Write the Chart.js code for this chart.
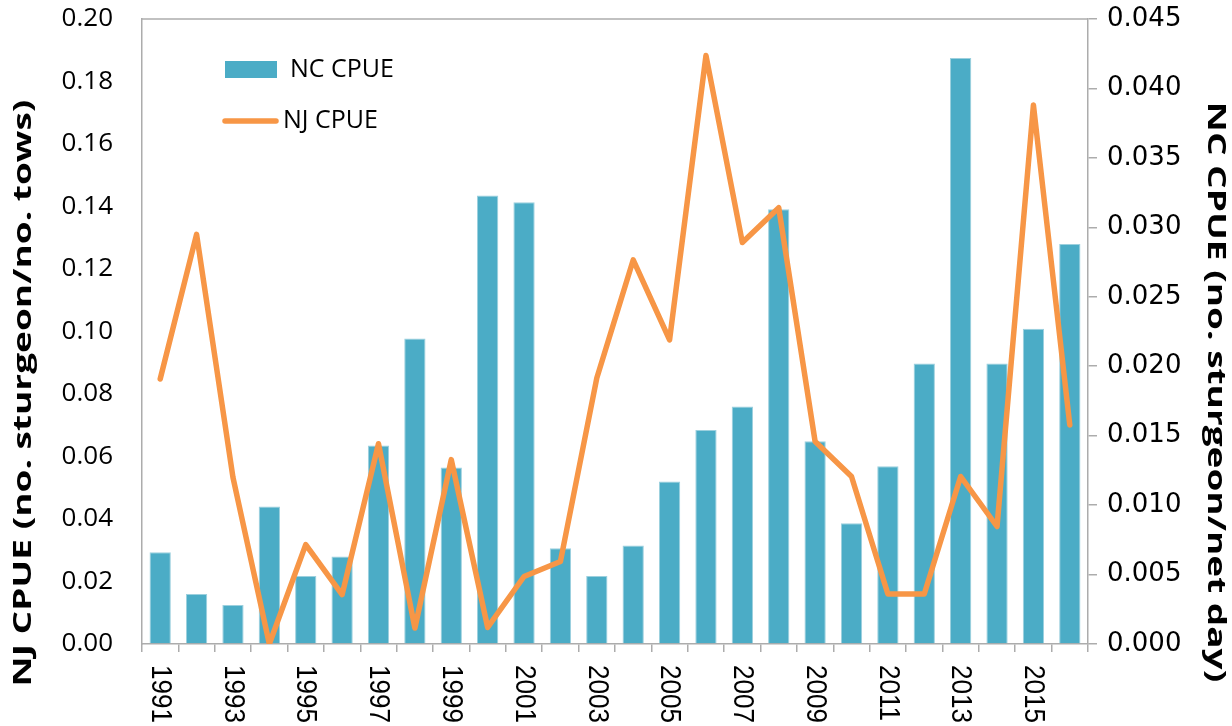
<!DOCTYPE html>
<html>
<head>
<meta charset="utf-8">
<title>NJ and NC CPUE</title>
<script src="https://cdn.jsdelivr.net/npm/chart.js@4.4.1/dist/chart.umd.min.js"></script>
<style>
  html, body { margin: 0; padding: 0; background: #fff; }
  #wrap { width: 1232px; height: 726px; }
</style>
</head>
<body>
<div id="wrap"><canvas id="cpueChart" width="1232" height="726"></canvas></div>
<script>
const years = ["1991", "1992", "1993", "1994", "1995", "1996", "1997", "1998", "1999", "2000",
  "2001", "2002", "2003", "2004", "2005", "2006", "2007", "2008", "2009", "2010",
  "2011", "2012", "2013", "2014", "2015", "2016"];

// NC gill net survey, no. sturgeon per net day (right axis)
const ncCpue = [0.0066, 0.0036, 0.0028, 0.0099, 0.0049, 0.0063, 0.0143, 0.0220, 0.0127, 0.0323,
  0.0318, 0.0069, 0.0049, 0.0071, 0.0117, 0.0154, 0.0171, 0.0313, 0.0146, 0.0087,
  0.0128, 0.0202, 0.0422, 0.0202, 0.0227, 0.0288];

// NJ trawl survey, no. sturgeon per tow (left axis)
const njCpue = [0.0848, 0.1311, 0.0533, 0.0000, 0.0318, 0.0158, 0.0641, 0.0051, 0.0590, 0.0053,
  0.0216, 0.0264, 0.0851, 0.1229, 0.0973, 0.1883, 0.1285, 0.1396, 0.0648, 0.0536,
  0.0160, 0.0160, 0.0536, 0.0376, 0.1725, 0.0701];

const axisGrey = "#ACACAC";
const barBlue = "#4BACC6";
const lineOrange = "#F79646";

function drawRotated(ctx, text, x, y, angle, stretch, align) {
  ctx.save();
  ctx.translate(x, y);
  ctx.rotate(angle);
  ctx.scale(stretch, 1);
  ctx.textAlign = align;
  ctx.fillText(text, 0, 0);
  ctx.restore();
}

// keep the scales from pushing the plot area around
function fixBox(size, key) {
  return (scale) => {
    scale[key] = size;
    scale.paddingTop = 0;
    scale.paddingBottom = 0;
    scale.paddingLeft = 0;
    scale.paddingRight = 0;
  };
}

// year labels, axis titles, legend and the top edge of the frame
const decorations = {
  id: "decorations",
  beforeDatasetsDraw(chart) {
    const { ctx, chartArea: area } = chart;
    ctx.save();
    ctx.strokeStyle = axisGrey;
    ctx.lineWidth = 1.5;
    ctx.beginPath();
    ctx.moveTo(area.left, area.top);
    ctx.lineTo(area.right, area.top);
    ctx.stroke();
    ctx.restore();
  },
  afterDraw(chart) {
    const { ctx, chartArea: area } = chart;
    const xScale = chart.scales.x;
    ctx.save();
    ctx.fillStyle = "#000";
    ctx.textBaseline = "middle";

    // every other year, reading downward
    ctx.font = '30px "Liberation Sans"';
    years.forEach((yr, i) => {
      if (i % 2) return;
      drawRotated(ctx, yr, xScale.getPixelForTick(i), area.bottom + 21, Math.PI / 2, 0.87, "left");
    });

    // axis titles
    ctx.font = 'bold 25px "Open Sans"';
    drawRotated(ctx, "NJ CPUE (no. sturgeon/no. tows)", 24, 393, -Math.PI / 2, 1.48, "center");
    drawRotated(ctx, "NC CPUE (no. sturgeon/net day)", 1215, 392, Math.PI / 2, 1.48, "center");

    // legend
    const [bars, line] = chart.data.datasets;
    const lx = area.left + 83;
    ctx.fillStyle = bars.backgroundColor;
    ctx.fillRect(lx, area.top + 42, 52, 17);
    ctx.strokeStyle = line.borderColor;
    ctx.lineWidth = 5.5;
    ctx.lineCap = "round";
    ctx.beginPath();
    ctx.moveTo(lx, area.top + 102);
    ctx.lineTo(lx + 51, area.top + 102);
    ctx.stroke();
    ctx.fillStyle = "#000";
    ctx.font = '25px "Open Sans"';
    ctx.textAlign = "left";
    ctx.fillText(bars.label, lx + 65, area.top + 51);
    ctx.fillText(line.label, lx + 58, area.top + 102);
    ctx.restore();
  }
};

new Chart(document.getElementById("cpueChart"), {
  data: {
    labels: years,
    datasets: [
      {
        type: "bar",
        label: "NC CPUE",
        data: ncCpue,
        yAxisID: "y1",
        backgroundColor: barBlue,
        borderColor: "#9CD0DE",
        borderWidth: 1,
        categoryPercentage: 1,
        barPercentage: 0.585,
        order: 2
      },
      {
        type: "line",
        label: "NJ CPUE",
        data: njCpue,
        yAxisID: "y",
        borderColor: lineOrange,
        backgroundColor: lineOrange,
        borderWidth: 5.5,
        borderCapStyle: "round",
        borderJoinStyle: "round",
        pointRadius: 0,
        tension: 0,
        order: 1
      }
    ]
  },
  options: {
    responsive: false,
    animation: false,
    devicePixelRatio: 1,
    layout: { padding: { top: 19, left: 0, right: 0, bottom: 0 } },
    plugins: {
      legend: { display: false },
      tooltip: { enabled: false }
    },
    scales: {
      x: {
        offset: true,
        grid: {
          offset: true,
          drawOnChartArea: false,
          drawTicks: true,
          tickLength: 8,
          color: axisGrey,
          lineWidth: 1.5
        },
        border: { display: true, color: axisGrey, width: 1.5 },
        ticks: { display: false },
        afterFit: fixBox(82, "height")
      },
      y: {
        position: "left",
        min: 0,
        max: 0.2,
        grid: { drawOnChartArea: false, drawTicks: false },
        border: { display: true, color: axisGrey, width: 1.5 },
        ticks: {
          stepSize: 0.02,
          padding: 29,
          color: "#000",
          font: { family: '"Open Sans"', size: 26 },
          callback: (v) => v.toFixed(2)
        },
        afterFit: fixBox(142, "width")
      },
      y1: {
        position: "right",
        min: 0,
        max: 0.045,
        grid: { drawOnChartArea: false, drawTicks: true, tickLength: 9, color: axisGrey, lineWidth: 1.5 },
        border: { display: true, color: axisGrey, width: 1.5 },
        ticks: {
          stepSize: 0.005,
          padding: 10,
          color: "#000",
          font: { family: '"DejaVu Sans"', size: 26 },
          callback: (v) => v.toFixed(3)
        },
        afterFit: fixBox(144, "width")
      }
    }
  },
  plugins: [decorations]
});
</script>
</body>
</html>
